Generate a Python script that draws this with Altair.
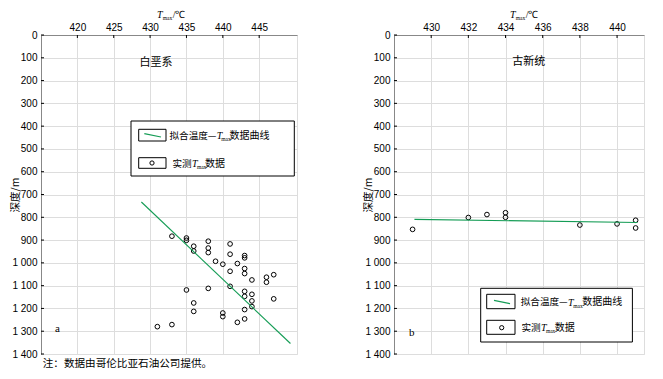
import altair as alt
import pandas as pd

# ---------------- data ----------------
# Left panel: 白垩系 (Cretaceous)
k_temp = [433, 435, 435, 436, 436, 438, 438, 438, 441, 441, 443, 443, 439, 440, 442,
          441, 443, 443, 444, 446, 446, 447, 435, 438, 441, 443, 443, 444, 444, 444,
          447, 436, 436, 440, 440, 443, 442, 443, 433, 431]
k_depth = [883, 891, 901, 927, 948, 905, 935, 955, 917, 962, 968, 978, 993, 1006, 1003,
           1037, 1025, 1047, 1075, 1063, 1085, 1052, 1119, 1112, 1103, 1125, 1147, 1138, 1167, 1192,
           1158, 1176, 1213, 1220, 1236, 1205, 1261, 1246, 1271, 1280]
k_fit_temp = [428.8, 449.3]
k_fit_depth = [733, 1354]

# Right panel: 古新统 (Paleocene)
p_temp = [429, 432, 433, 434, 434, 438, 440, 441, 441]
p_depth = [853, 801, 788, 780, 800, 834, 829, 813, 847]
p_fit_temp = [429.1, 441.1]
p_fit_depth = [809, 823]

k_xticks = [420, 425, 430, 435, 440, 445]
p_xticks = [430, 432, 434, 436, 438, 440]
y_ticks = list(range(0, 1401, 100))

SERIF = "Liberation Serif"
CJK = "Noto Sans CJK SC"
GREEN = "#149c55"
dummy = pd.DataFrame({"d": [0]})


def txt(s, x, y, size, font=CJK, style="normal", align="left", baseline="middle"):
    return alt.Chart(dummy).mark_text(
        text=s, font=font, fontSize=size, fontStyle=style, align=align,
        baseline=baseline, color="black"
    ).encode(x=alt.value(x), y=alt.value(y))


def box(x1, x2, y1, y2, sw=1):
    return alt.Chart(dummy).mark_rect(fill="white", stroke="black", strokeWidth=sw).encode(
        x=alt.value(x1), x2=alt.value(x2), y=alt.value(y1), y2=alt.value(y2))


def panel(temps, depths, fit_t, fit_d, xticks, xdomain, width, title, title_xy,
          letter, letter_xy, leg, footnote=False):
    xs = alt.Scale(domain=xdomain, nice=False, zero=False)
    ys = alt.Scale(domain=[0, 1400], reverse=True, nice=False, zero=False)
    xaxis = alt.Axis(orient="top", values=xticks, ticks=False, labelPadding=3,
                     title=None, format="d", domain=True)
    yaxis = alt.Axis(orient="left", values=y_ticks, ticks=False, labelPadding=4,
                     labelExpr="replace(format(datum.value, ',d'), ',', ' ')",
                     title="深度/m", titleFont=CJK, titleFontSize=10.5,
                     titleFontWeight="normal", titleX=-25.5, titleBaseline="middle",
                     titleColor="black", domain=True)

    pts = pd.DataFrame({"t": temps, "d": depths})
    pts_layer = alt.Chart(pts).mark_point(
        shape="circle", filled=False, color="black", size=22, strokeWidth=1, opacity=1
    ).encode(x=alt.X("t:Q", scale=xs, axis=xaxis), y=alt.Y("d:Q", scale=ys, axis=yaxis))

    fit = pd.DataFrame({"t": fit_t, "d": fit_d})
    fit_layer = alt.Chart(fit).mark_line(color=GREEN, strokeWidth=1.1).encode(
        x=alt.X("t:Q", scale=xs, axis=xaxis), y=alt.Y("d:Q", scale=ys, axis=yaxis))

    xt = alt.Chart(pd.DataFrame({"v": xticks})).mark_rule(color="black", strokeWidth=1).encode(
        x=alt.X("v:Q", scale=xs, axis=xaxis), y=alt.value(0), y2=alt.value(3))
    yt = alt.Chart(pd.DataFrame({"v": y_ticks})).mark_rule(color="black", strokeWidth=1).encode(
        y=alt.Y("v:Q", scale=ys, axis=yaxis), x=alt.value(0), x2=alt.value(3))

    layers = [pts_layer, fit_layer, xt, yt]

    # axis title  T_max/℃
    layers += [
        txt("T", 116, -16.7, 10, SERIF, "italic", baseline="alphabetic"),
        txt("max", 121.7, -14.8, 5.5, SERIF, baseline="alphabetic"),
        txt("/℃", 131.7, -16.7, 10, SERIF, baseline="alphabetic"),
    ]
    layers.append(txt(title, title_xy[0], title_xy[1], 11, CJK, align="center"))
    layers.append(txt(letter, letter_xy[0], letter_xy[1], 11, SERIF, align="left"))

    # legend
    (bx1, bx2, by1, by2), (sx1, sx2), r1, r2, line_xy, circ_xy, seg1, seg2 = leg
    layers.append(box(bx1, bx2, by1, by2))
    layers.append(box(sx1, sx2, r1[0], r1[1]))
    layers.append(box(sx1, sx2, r2[0], r2[1]))
    layers.append(alt.Chart(dummy).mark_rule(color=GREEN, strokeWidth=1.2).encode(
        x=alt.value(line_xy[0]), y=alt.value(line_xy[1]),
        x2=alt.value(line_xy[2]), y2=alt.value(line_xy[3])))
    layers.append(alt.Chart(dummy).mark_point(
        shape="circle", filled=False, color="black", size=18, strokeWidth=1, opacity=1
    ).encode(x=alt.value(circ_xy[0]), y=alt.value(circ_xy[1])))
    ry1 = (r1[0] + r1[1]) / 2 + 0.5
    ry2 = (r2[0] + r2[1]) / 2 + 0.5
    a, tx, mx, b = seg1
    layers += [
        txt("拟合温度—", tx - 0.3, ry1, 9.6, CJK, align="right"),
        txt("T", tx, ry1 + 3.5, 10, SERIF, "italic", baseline="alphabetic"),
        txt("max", mx, ry1 + 5.5, 5.5, SERIF, baseline="alphabetic"),
        txt("数据曲线", b, ry1, 10, CJK),
    ]
    a, tx, mx, b = seg2
    layers += [
        txt("实测", tx - 0.3, ry2, 9.6, CJK, align="right"),
        txt("T", tx, ry2 + 3.5, 10, SERIF, "italic", baseline="alphabetic"),
        txt("max", mx, ry2 + 5.5, 5.5, SERIF, baseline="alphabetic"),
        txt("数据", b, ry2, 10, CJK),
    ]
    if footnote:
        layers.append(txt("注：数据由哥伦比亚石油公司提供。", 1.7, 328.7, 10.6, CJK))

    return alt.layer(*layers).properties(width=width, height=319)


left = panel(
    k_temp, k_depth, k_fit_temp, k_fit_depth, k_xticks, [415, 450.2], 256,
    "白垩系", (115, 27.7), "a", (14, 294.3),
    ((90, 253.3, 86, 141), (97.7, 125), (94.3, 106), (122.7, 133.3),
     (103.3, 98.7, 120, 102), (111, 128),
     (130.7, 175.7, 180.2, 188.5), (130.7, 150.9, 155.9, 164)),
    footnote=True,
)
right = panel(
    p_temp, p_depth, p_fit_temp, p_fit_depth, p_xticks, [428, 441.45], 250,
    "古新统", (134.7, 27), "b", (15, 298),
    ((86.7, 238.4, 253.3, 307), (92.7, 121), (259.3, 273.7), (285.3, 299.3),
     (100, 265.3, 116, 268.7), (107.7, 292.7),
     (126, 174, 179.2, 188.2), (126, 146.9, 151.9, 160.7)),
)

chart = alt.hconcat(left, right, spacing=97, bounds="flush").properties(
    padding={"left": 2, "top": 1, "right": 5, "bottom": 5}
).configure_view(
    stroke="#222222", strokeWidth=1
).configure_axis(
    grid=False, domainColor="#222222", domainWidth=1, labelFont=SERIF,
    labelFontSize=9.5, labelColor="black"
).configure(background="white")

chart.save("out.html", embed_options={"renderer": "svg", "actions": False})
